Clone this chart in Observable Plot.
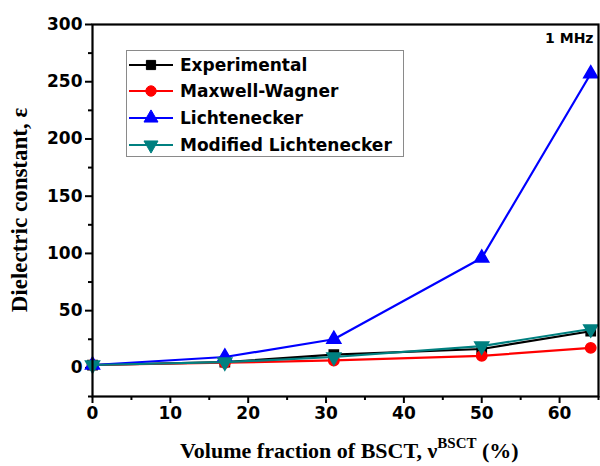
<!DOCTYPE html>
<html>
<head>
<meta charset="utf-8">
<script src="https://cdn.jsdelivr.net/npm/d3@7"></script>
<script src="https://cdn.jsdelivr.net/npm/@observablehq/plot@0.6"></script>
<style>
  html, body { margin: 0; padding: 0; background: #fff; }
  g[aria-label="x-axis tick label"] text, g[aria-label="y-axis tick label"] text { font-size: 17px; font-weight: bold; }
</style>
</head>
<body>
<div id="chart"></div>
<script>
// ---- data ----
const volumeFraction = [0, 17, 31, 50, 64];
const experimental = [2.5, 5, 11.5, 16.5, 32];
const maxwellWagner = [2.5, 4.5, 6.5, 10.5, 17.5];
const lichtenecker = [2.5, 9.5, 25, 96, 257];
const modifiedLichtenecker = [2.5, 5, 9.5, 19, 34];
const seriesNames = ["Experimental", "Maxwell-Wagner", "Lichtenecker", "Modified Lichtenecker"];
const seriesValues = [experimental, maxwellWagner, lichtenecker, modifiedLichtenecker];
const seriesColors = ["#000000", "#ff0000", "#0000ff", "#008080"];
const xTicks = [0, 10, 20, 30, 40, 50, 60];
const xMinorTicks = [5, 15, 25, 35, 45, 55, 65];
const yTicks = [0, 50, 100, 150, 200, 250, 300];
const yMinorTicks = [-25, 25, 75, 125, 175, 225, 275];
const annotation = "1 MHz";

const sqrt3 = Math.sqrt(3);
const triangleDown = {
  draw(context, size) {
    const y = -Math.sqrt(size / (sqrt3 * 3));
    context.moveTo(0, -y * 2);
    context.lineTo(-sqrt3 * y, y);
    context.lineTo(sqrt3 * y, y);
    context.closePath();
  }
};
const seriesSymbols = [d3.symbolSquare, d3.symbolCircle, d3.symbolTriangle, triangleDown];

const rows = seriesNames.flatMap((name, i) =>
  volumeFraction.map((v, j) => ({series: name, x: v, y: seriesValues[i][j]}))
);

const font = "'DejaVu Sans', sans-serif";
const serif = "'Liberation Serif', 'Times New Roman', serif";

const chart = Plot.plot({
  width: 600,
  height: 466,
  marginLeft: 92,
  marginRight: 2,
  marginTop: 24,
  marginBottom: 70,
  style: {fontFamily: font, fontWeight: "bold", fontSize: "16px", color: "#000", background: "#fff"},
  x: {domain: [0, 65]},
  y: {domain: [-25, 300]},
  color: {domain: seriesNames, range: seriesColors},
  symbol: {domain: seriesNames, range: seriesSymbols},
  marks: [
    Plot.axisX(xTicks, {tickSize: 7, strokeWidth: 2, tickPadding: 3, label: null}),
    Plot.axisX(xMinorTicks, {tickSize: 4, strokeWidth: 2, tickFormat: () => "", label: null}),
    Plot.axisY(yTicks, {tickSize: 7, strokeWidth: 2, tickPadding: 3, label: null}),
    Plot.axisY(yMinorTicks, {tickSize: 4, strokeWidth: 2, tickFormat: () => "", label: null}),
    ...seriesNames.flatMap((name) => [
      Plot.line(rows.filter((d) => d.series === name), {x: "x", y: "y", stroke: "series", strokeWidth: 2.2}),
      Plot.dot(rows.filter((d) => d.series === name), {x: "x", y: "y", fill: "series", stroke: "series", symbol: "series", r: 5.2})
    ]),
    Plot.frame({stroke: "#000", strokeWidth: 2.2}),
    Plot.text([annotation], {frameAnchor: "top-right", dx: -5, dy: 9, fontSize: 14, fontWeight: "bold", fontFamily: font})
  ]
});

const svg = d3.select(chart);

// Legend
const lg = svg.append("g").attr("class", "legend");
lg.append("rect").attr("x", 126.5).attr("y", 50.5).attr("width", 277).attr("height", 106)
  .attr("fill", "#fff").attr("stroke", "#8a8a8a").attr("stroke-width", 1);
const rowY = [65, 91, 118, 145];
seriesNames.forEach((name, i) => {
  const g = lg.append("g").attr("transform", `translate(0,${rowY[i]})`);
  g.append("line").attr("x1", 129).attr("x2", 173).attr("y1", 0).attr("y2", 0)
    .attr("stroke", seriesColors[i]).attr("stroke-width", 2.2);
  g.append("path").attr("d", d3.symbol(seriesSymbols[i], Math.PI * 5.2 * 5.2)())
    .attr("transform", "translate(151,0)").attr("fill", seriesColors[i]).attr("stroke", seriesColors[i]);
  g.append("text").attr("x", 180).attr("y", 0).attr("dy", "0.36em").attr("text-anchor", "start")
    .attr("font-family", font).attr("font-weight", "bold").attr("font-size", 17).attr("fill", "#000")
    .text(name);
});

// Axis titles
const xl = svg.append("text").attr("x", 180).attr("y", 458).attr("text-anchor", "start")
  .attr("font-family", serif).attr("font-weight", "bold").attr("font-size", 22).attr("fill", "#000");
xl.append("tspan").text("Volume fraction of BSCT, \u03bd");
xl.append("tspan").attr("dy", -10).attr("font-size", 15).text("BSCT");
xl.append("tspan").attr("dy", 10).text(" (%)");

svg.append("text").attr("transform", "translate(27,210) rotate(-90)").attr("text-anchor", "middle")
  .attr("font-family", serif).attr("font-weight", "bold").attr("font-size", 23).attr("fill", "#000")
  .text("Dielectric constant, \u03b5");

document.getElementById("chart").appendChild(chart);
</script>
</body>
</html>
